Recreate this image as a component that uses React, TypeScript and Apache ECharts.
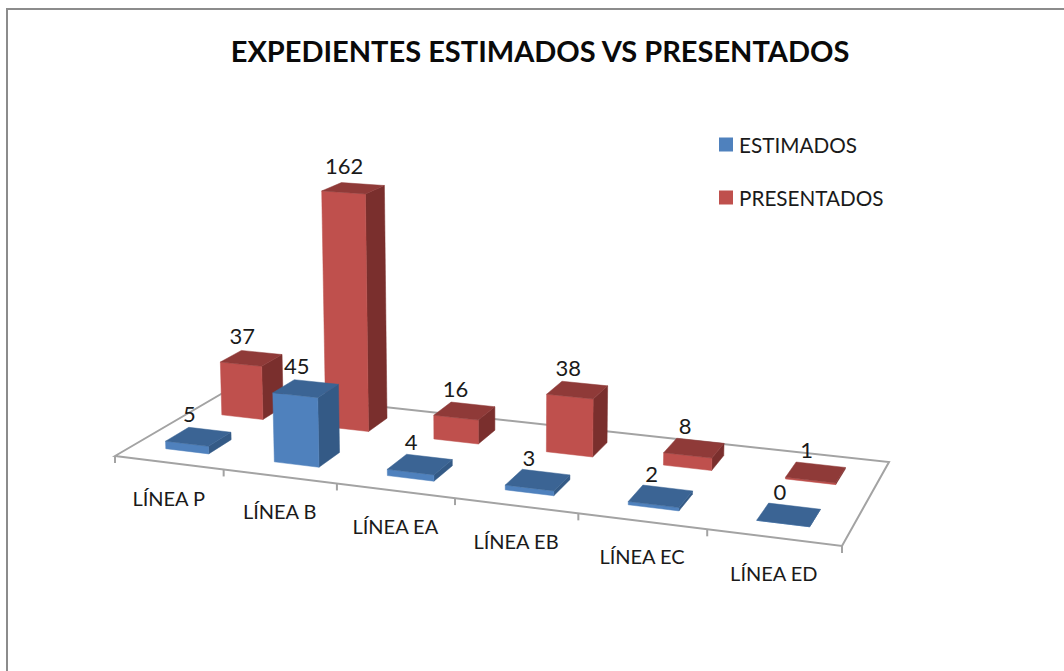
import React, { useEffect, useRef } from "react";
import * as echarts from "echarts";

const titleText = "EXPEDIENTES ESTIMADOS VS PRESENTADOS";
const categories = ["LÍNEA P", "LÍNEA B", "LÍNEA EA", "LÍNEA EB", "LÍNEA EC", "LÍNEA ED"];
const estimados = [5, 45, 4, 3, 2, 0];
const presentados = [37, 162, 16, 38, 8, 1];

const FONT = "Lato, Carlito, Calibri, sans-serif";

// Perspective of the chart floor: unit square (u along categories, v into depth) -> screen
const A = [115, 456];
const B = [842, 546];
const C = [889, 462];
const D = [228, 390];
const dx1 = B[0] - C[0], dx2 = D[0] - C[0], sx = A[0] - B[0] + C[0] - D[0];
const dy1 = B[1] - C[1], dy2 = D[1] - C[1], sy = A[1] - B[1] + C[1] - D[1];
const det = dx1 * dy2 - dx2 * dy1;
const g = (sx * dy2 - dx2 * sy) / det;
const h = (dx1 * sy - sx * dy1) / det;
const a = B[0] - A[0] + g * B[0], b = D[0] - A[0] + h * D[0];
const d = B[1] - A[1] + g * B[1], e = D[1] - A[1] + h * D[1];

const depthW = (u: number, v: number) => g * u + h * v + 1;
const floorPt = (u: number, v: number) => {
  const w = depthW(u, v);
  return [(a * u + b * v + A[0]) / w, (d * u + e * v + A[1]) / w];
};

const catCount = categories.length;
const HALF_W = 0.2;
const HALF_D = 0.1;
const LEAN = 1e-4;
const LEAN_X = 500;

const lift = (p: number[], u: number, v: number, size: number) => {
  const hh = size / depthW(u, v);
  return [p[0] + (p[0] - LEAN_X) * hh * LEAN, p[1] - hh];
};

const colors: Record<string, { front: string; top: string; side: string }> = {
  ESTIMADOS: { front: "#4F81BD", top: "#3B6494", side: "#345A86" },
  PRESENTADOS: { front: "#BF504D", top: "#8F3A38", side: "#7A2F2D" },
};

const barRender = (name: string, vc: number) => (_p: any, api: any) => {
  const i = api.value(0);
  const val = api.value(1);
  const size = api.size([0, val])[1];
  const c = colors[name];
  const u0 = (i + 0.5 - HALF_W) / catCount;
  const u1 = (i + 0.5 + HALF_W) / catCount;
  const v0 = vc - HALF_D;
  const v1 = vc + HALF_D;
  const f0 = floorPt(u0, v0), f1 = floorPt(u1, v0), f2 = floorPt(u1, v1), f3 = floorPt(u0, v1);
  const t0 = lift(f0, u0, v0, size), t1 = lift(f1, u1, v0, size), t2 = lift(f2, u1, v1, size), t3 = lift(f3, u0, v1, size);
  const poly = (points: number[][], fill: string) => ({
    type: "polygon",
    shape: { points },
    style: { fill, stroke: fill, lineWidth: 0.5 },
  });
  const cx = (t0[0] + t1[0] + t2[0] + t3[0]) / 4;
  const cy = (t0[1] + t1[1] + t2[1] + t3[1]) / 4;
  return {
    type: "group",
    children: [
      poly([f1, f2, t2, t1], c.side),
      poly([f0, f1, t1, t0], c.front),
      poly([t0, t1, t2, t3], c.top),
      {
        type: "text",
        style: {
          text: String(val), x: cx - 9, y: cy - 23, fill: "#1a1a1a",
          font: `22px ${FONT}`, align: "center", verticalAlign: "middle",
        },
      },
    ],
  };
};

const floorRender = () => {
  const line = { stroke: "#A3A3A3", lineWidth: 2 };
  const ticks = categories.map((_c, i) => i).concat(catCount).map((i) => {
    const p = floorPt(i / catCount, 0);
    return { type: "line", shape: { x1: p[0], y1: p[1], x2: p[0], y2: p[1] + 7 }, style: line };
  });
  return {
    type: "group",
    children: [
      {
        type: "polygon",
        shape: { points: [floorPt(0, 0), floorPt(1, 0), floorPt(1, 1), floorPt(0, 1)] },
        style: { fill: "#ffffff", ...line },
      },
      ...ticks,
    ],
  };
};

const labelRender = (_p: any, api: any) => {
  const i = api.value(0);
  const p = floorPt((i + 0.5) / catCount, 0);
  return {
    type: "text",
    style: {
      text: categories[i], x: p[0], y: p[1] + 35, fill: "#1a1a1a",
      font: `20px ${FONT}`, align: "center", verticalAlign: "middle",
    },
  };
};

export default function App() {
  const ref = useRef<HTMLDivElement>(null);
  useEffect(() => {
    const chart = echarts.init(ref.current!, undefined, { renderer: "svg" });
    const custom = { type: "custom", coordinateSystem: "cartesian2d", clip: false, silent: true };
    chart.setOption({
      animation: false,
      backgroundColor: "#ffffff",
      title: {
        text: titleText, left: 535, top: 31, textAlign: "center",
        textStyle: { fontFamily: FONT, fontWeight: "bold", fontSize: 29, color: "#0a0a0a" },
      },
      legend: {
        orient: "vertical", left: 719, top: 134, padding: 0, itemWidth: 14, itemHeight: 14, itemGap: 32,
        icon: "rect", data: ["ESTIMADOS", "PRESENTADOS"],
        textStyle: { fontFamily: FONT, fontSize: 20.7, color: "#1a1a1a", padding: [0, 0, 0, 1] },
        selectedMode: false,
      },
      grid: { left: 100, top: 150, width: 800, height: 273.6 },
      xAxis: { type: "category", data: categories, show: false },
      yAxis: { type: "value", min: 0, max: 180, show: false },
      graphic: [{
        type: "polyline", silent: true,
        shape: { points: [[7, 671], [7, 9], [1064, 9]] },
        style: { fill: "none", stroke: "#8C8C8C", lineWidth: 2 },
      }],
      series: [
        { ...custom, name: "floor", renderItem: floorRender, data: [[0, 0]] },
        {
          ...custom, name: "PRESENTADOS", itemStyle: { color: colors.PRESENTADOS.front },
          renderItem: barRender("PRESENTADOS", 0.753),
          data: presentados.map((v, i) => [i, v]),
        },
        {
          ...custom, name: "ESTIMADOS", itemStyle: { color: colors.ESTIMADOS.front },
          renderItem: barRender("ESTIMADOS", 0.255),
          data: estimados.map((v, i) => [i, v]),
        },
        { ...custom, name: "axis", renderItem: labelRender, data: categories.map((_c, i) => [i, 0]) },
      ],
    });
    return () => chart.dispose();
  }, []);
  return <div ref={ref} style={{ position: "fixed", left: 0, top: 0, width: 1064, height: 671 }} />;
}
